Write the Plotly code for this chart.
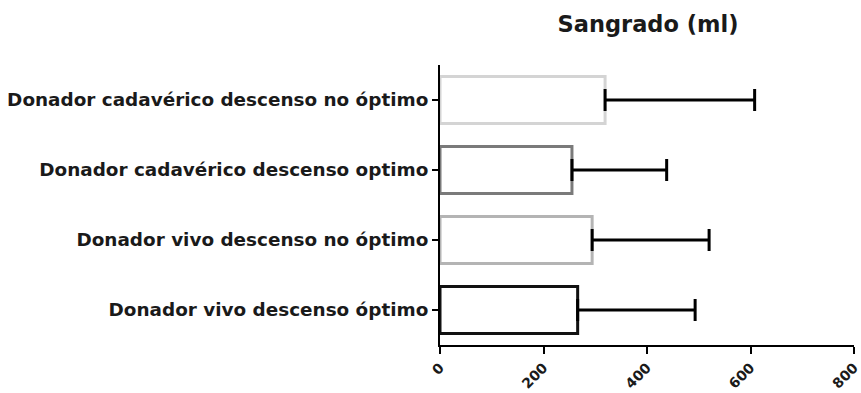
import plotly.graph_objects as go

categories = ["Donador vivo descenso óptimo",
              "Donador vivo descenso no óptimo",
              "Donador cadavérico descenso optimo",
              "Donador cadavérico descenso no óptimo"]
means = [266, 294, 255, 319]
sd = [227, 226, 183, 289]
outline_colors = ["#111111", "#b4b4b4", "#7a7a7a", "#d4d4d4"]
x_ticks = [0, 200, 400, 600, 800]

FONT = "DejaVu Sans, Verdana, sans-serif"

fig = go.Figure()
fig.add_trace(go.Bar(
    x=means, y=categories, orientation="h",
    marker=dict(color="white", line=dict(color=outline_colors, width=3)),
    width=0.67,
    error_x=dict(type="data", array=sd, symmetric=False, arrayminus=[0]*4,
                 color="black", thickness=3, width=11),
))
fig.update_layout(
    width=861, height=393,
    margin=dict(l=440, r=7, t=65, b=48, autoexpand=False),
    plot_bgcolor="white", paper_bgcolor="white",
    showlegend=False,
    title=dict(text="<b>Sangrado (ml)</b>", x=648/861, xanchor="center",
               y=1 - 24/393, yanchor="middle",
               font=dict(family=FONT, size=22.5, color="#1a1a1a")),
    font=dict(family=FONT, color="#1a1a1a"),
)
fig.update_xaxes(range=[0, 800], tickvals=x_ticks, ticktext=[f"<b>{v}</b>" for v in x_ticks],
                 tickangle=-45, showline=True, linecolor="black", linewidth=2,
                 ticks="outside", ticklen=7, tickwidth=2, tickcolor="black",
                 showgrid=False, zeroline=False, tickfont=dict(size=14), automargin=False,
                 ticklabeloverflow="allow")
fig.update_yaxes(range=[-0.5, 3.5], categoryorder="array", categoryarray=categories,
                 tickvals=categories, ticktext=[f"<b>{c}</b>" for c in categories],
                 showline=True, linecolor="black", linewidth=2,
                 ticks="outside", ticklen=6, tickwidth=2, tickcolor="black",
                 showgrid=False, zeroline=False, tickfont=dict(size=18.4), automargin=False,
                 ticklabeloverflow="allow")
fig.write_html("out.html", config={"displayModeBar": False},
               post_script="document.body.style.margin='0';document.body.style.overflow='hidden';")
